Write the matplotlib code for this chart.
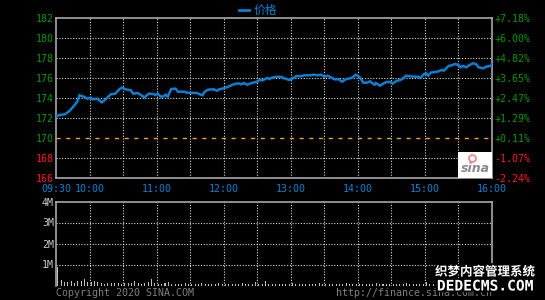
import numpy as np
import matplotlib
matplotlib.use('Agg')
import matplotlib.pyplot as plt
import matplotlib.patheffects as pe

# minutes after 09:30 and price
t = [0, 3, 8, 12, 16, 19, 21, 25, 28, 31, 33, 37, 41, 44, 49, 53, 57, 59, 62, 67,
     69, 73, 76, 79, 83, 87, 89, 91, 94, 97, 98, 100, 103, 107, 109, 115, 117, 126, 128, 131,
     133, 136, 141, 144, 146, 150, 154, 159, 163, 166, 168, 171, 175, 180, 182, 185, 189, 191, 192, 198,
     202, 204, 209, 212, 215, 219, 222, 228, 230, 234, 237, 240, 243, 246, 249, 253, 256, 259, 264, 266,
     268, 270, 272, 275, 278, 281, 283, 285, 286, 290, 293, 296, 299, 301, 305, 308, 311, 313, 317, 320,
     324, 326, 329, 331, 333, 335, 339, 342, 345, 347, 351, 354, 357, 360, 362, 364, 367, 370, 373, 376,
     378, 382, 385, 389, 390]
price = [172.13, 172.30, 172.37, 172.70, 173.20, 173.63, 174.27, 174.13, 173.93, 174.03,
         173.87, 173.93, 173.57, 173.83, 174.37, 174.43, 174.90, 175.03, 174.87, 174.77,
         174.43, 174.50, 174.30, 174.07, 174.43, 174.40, 174.30, 174.43, 174.10, 174.23,
         174.33, 174.13, 174.90, 174.93, 174.63, 174.63, 174.53, 174.50, 174.40, 174.27,
         174.63, 174.83, 174.87, 174.73, 174.87, 174.97, 175.13, 175.37, 175.47, 175.37,
         175.50, 175.33, 175.50, 175.63, 175.83, 175.77, 176.00, 175.90, 176.00, 176.13,
         176.10, 175.97, 175.80, 175.97, 176.20, 176.17, 176.27, 176.27, 176.33, 176.27,
         176.33, 176.13, 176.23, 176.07, 175.87, 175.87, 175.63, 175.87, 176.00, 176.13,
         176.33, 176.20, 176.03, 175.53, 175.53, 175.67, 175.47, 175.33, 175.50, 175.23,
         175.47, 175.60, 175.60, 175.43, 175.73, 175.80, 176.00, 176.23, 176.17, 176.13,
         176.13, 176.00, 176.37, 176.47, 176.23, 176.53, 176.60, 176.67, 176.80, 176.73,
         177.20, 177.27, 177.40, 177.30, 177.07, 177.20, 177.07, 177.30, 177.47, 177.37,
         177.07, 176.97, 177.13, 177.23, 177.40]
prev_close = 170

# volume (M), one bar every 3 minutes
vol = [0.87, 0.27, 0.19, 0.17, 0.22, 0.14, 0.22, 0.22, 0.32, 0.17,
       0.17, 0.20, 0.17, 0.12, 0.05, 0.14, 0.14, 0.10, 0.11, 0.07,
       0.12, 0.14, 0.11, 0.20, 0.12, 0.08, 0.12, 0.17, 0.29, 0.12,
       0.08, 0.06, 0.10, 0.15, 0.07, 0.09, 0.05, 0.08, 0.10, 0.06,
       0.09, 0.07, 0.05, 0.10, 0.08, 0.06, 0.09, 0.07, 0.11, 0.06,
       0.08, 0.05, 0.09, 0.07, 0.06, 0.10, 0.08, 0.05, 0.07, 0.17,
       0.06, 0.09, 0.20, 0.07, 0.05, 0.08, 0.06, 0.09, 0.07, 0.05,
       0.10, 0.06, 0.08, 0.05, 0.09, 0.07, 0.06, 0.08, 0.10, 0.05,
       0.07, 0.09, 0.06, 0.08, 0.05, 0.07, 0.10, 0.06, 0.08, 0.07,
       0.05, 0.09, 0.06, 0.08, 0.07, 0.10, 0.06, 0.05, 0.08, 0.09,
       0.06, 0.07, 0.05, 0.08, 0.10, 0.07, 0.06, 0.09, 0.05, 0.08,
       0.15, 0.07, 0.06, 0.09, 0.08, 0.05, 0.07, 0.10, 0.06, 0.08,
       0.07, 0.09, 0.06, 0.05, 0.08, 0.07, 0.10, 0.12, 0.08, 0.14]
vol_t = [3 * i + 1.5 for i in range(len(vol))]

yticks = [166, 168, 170, 172, 174, 176, 178, 180, 182]
pct_labels = ['-2.24%', '-1.07%', '+0.11%', '+1.29%', '+2.47%', '+3.65%', '+4.82%', '+6.00%', '+7.18%']
xticks = [0, 30, 90, 150, 210, 270, 330, 390]
xlabels = ['09:30', '10:00', '11:00', '12:00', '13:00', '14:00', '15:00', '16:00']
vticks = [1, 2, 3, 4]
vlabels = ['1M', '2M', '3M', '4M']

green = '#009a00'
red = '#ff1a1a'
blue = '#0b80d2'
gridc = '#d8d8d8'
framec = '#a8a8a8'
mono = 'DejaVu Sans Mono'

fig = plt.figure(figsize=(5.45, 3.0), dpi=100, facecolor='black')
ax = fig.add_axes([56/545, 1-178/300, 436/545, 160/300], facecolor='black')
axv = fig.add_axes([56/545, 1-285.5/300, 436/545, 84/300], facecolor='black')

for a in (ax, axv):
    for s in a.spines.values():
        s.set_color(framec)
        s.set_linewidth(1.2)
    a.set_xlim(0, 390)
    for m in range(30, 390, 30):
        a.axvline(m, color=gridc, lw=0.8, ls=(0, (1, 1.5)), zorder=1)

# price panel
ax.set_ylim(166, 182)
for y in yticks[1:-1]:
    if y != prev_close:
        ax.axhline(y, color=gridc, lw=0.8, ls=(0, (1, 1.5)), zorder=1)
ax.axhline(prev_close, color='#f0a030', lw=1.0, ls=(0, (3, 4)), zorder=1)
ax.plot(t, price, color=blue, lw=1.8, zorder=3, solid_joinstyle='miter')

ax.set_yticks(yticks)
ax.set_yticklabels([str(y) for y in yticks], family=mono, fontsize=7.2)
for lab, y in zip(ax.get_yticklabels(), yticks):
    lab.set_color(red if y < prev_close else green)
ax.tick_params(axis='y', length=0, pad=1.5)
ax.set_xticks(xticks)
ax.set_xticklabels(xlabels, family=mono, fontsize=7.2, color=blue)
ax.tick_params(axis='x', length=0, pad=4)

ax2 = ax.twinx()
ax2.set_ylim(166, 182)
ax2.set_yticks(yticks)
ax2.set_yticklabels(pct_labels, family=mono, fontsize=7.2)
for lab, y in zip(ax2.get_yticklabels(), yticks):
    lab.set_color(red if y < prev_close else green)
ax2.tick_params(axis='y', length=0, pad=1.5)
for s in ax2.spines.values():
    s.set_visible(False)

# sina logo box
ax.add_patch(plt.Rectangle((360, 166), 30, 2.6, facecolor='white', edgecolor='none', zorder=4))
ax.text(375, 166.9, 'sina', fontsize=9, fontweight='bold', fontstyle='italic',
        color='#8a8a8a', ha='center', va='center', zorder=5)
ax.plot([372], [168.0], marker='o', ms=5, mfc='none', mec='#f08080', mew=1.2, zorder=5)

# legend
fig.lines.append(plt.Line2D([239/545, 249/545], [1-10/300, 1-10/300], color=blue, lw=2,
                            transform=fig.transFigure))
fig.text(254/545, 1-10/300, '价格', color=blue, fontsize=8.5, va='center',
         family=['Noto Sans CJK SC', 'DejaVu Sans'])

# volume panel
axv.set_ylim(0, 4)
for y in vticks[:-1]:
    axv.axhline(y, color=gridc, lw=0.8, ls=(0, (1, 1.5)), zorder=1)
axv.bar(vol_t, vol, width=0.9, color='#c0c0c0', zorder=2)
axv.spines['bottom'].set_visible(False)
axv.set_xticks([])
axv.set_yticks(vticks)
axv.set_yticklabels(vlabels, family=mono, fontsize=7.2, color='#c8c8c8')
axv.tick_params(axis='y', length=0, pad=1.5)

fig.text(56/545, 1-292.5/300, 'Copyright 2020 SINA.COM', family=mono, fontsize=7.2,
         color='#808080', va='center')
fig.text(492/545, 1-292.5/300, 'http://finance.sina.com.cn', family=mono, fontsize=7.2,
         color='#808080', va='center', ha='right')

# watermark
stroke = [pe.withStroke(linewidth=2.5, foreground='black')]
fig.text(485/545, 1-272/300, '织梦内容管理系统', color='white', fontsize=9, fontweight='bold',
         ha='center', va='center', family=['Noto Sans CJK SC', 'DejaVu Sans'], path_effects=stroke)
fig.text(485/545, 1-286/300, 'DEDECMS.COM', color='white', fontsize=10.5, fontweight='bold',
         ha='center', va='center', family=mono, path_effects=stroke)

fig.savefig('out.png', dpi=100, facecolor='black')
